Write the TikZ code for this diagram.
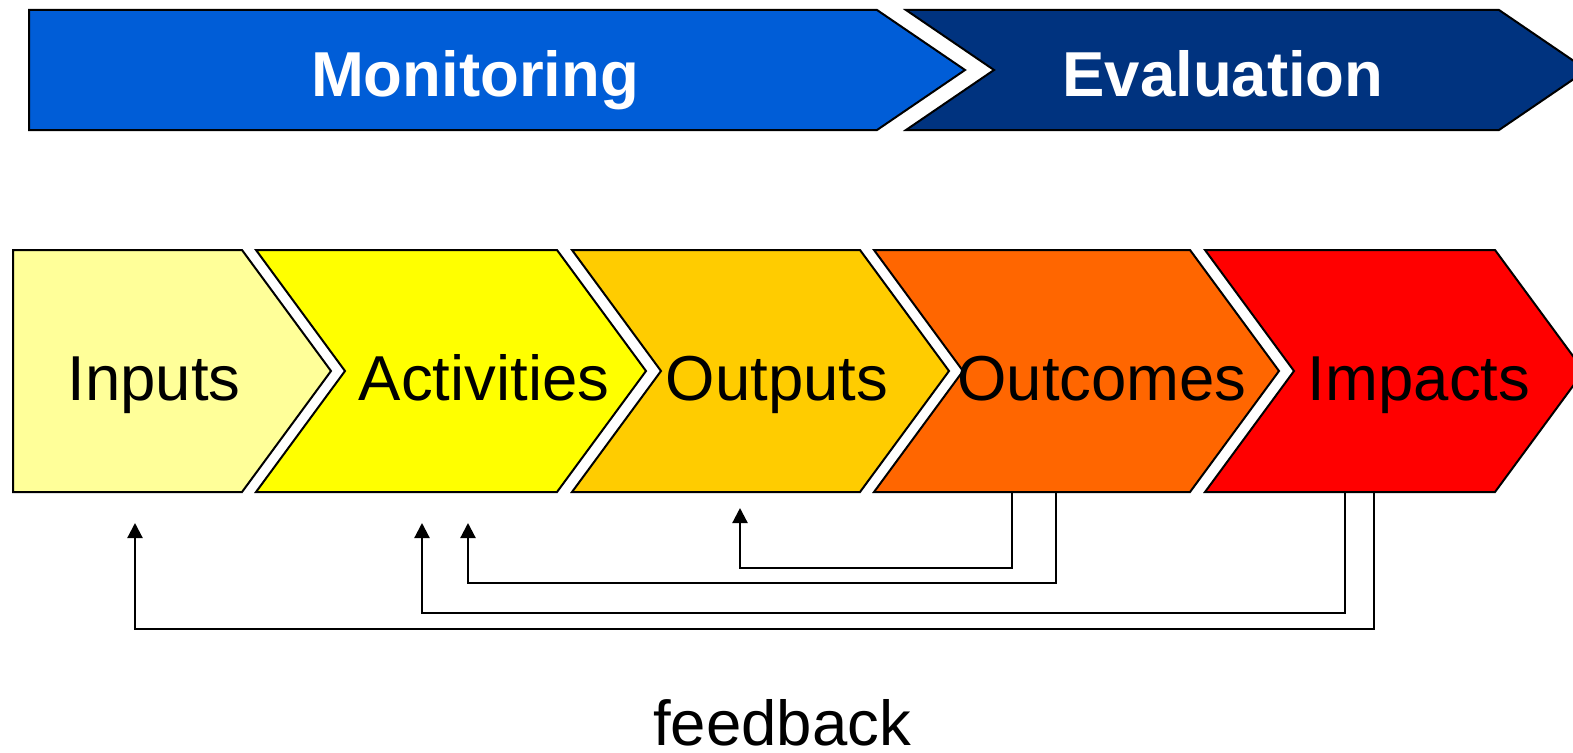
\documentclass[tikz,border=0pt]{standalone}
\usepackage{fontspec}
\setmainfont{Liberation Sans}
\usetikzlibrary{arrows.meta}
\definecolor{cmon}{HTML}{005DD7}
\definecolor{ceva}{HTML}{00337F}
\definecolor{cin}{HTML}{FFFF99}
\definecolor{cact}{HTML}{FFFF00}
\definecolor{cout}{HTML}{FFCC00}
\definecolor{cocm}{HTML}{FF6600}
\definecolor{cimp}{HTML}{FF0000}
\tikzset{
  shapebox/.style={draw=black,line width=2pt,line join=miter},
  bigtxt/.style={font=\fontsize{63.5}{74}\selectfont,anchor=base,inner sep=0pt},
  bandtxt/.style={font=\fontsize{63.5}{74}\selectfont\bfseries,text=white,anchor=base,inner sep=0pt},
  fb/.style={draw=black,line width=2.2pt,-{Triangle[length=15pt,width=15pt]}}
}
\begin{document}
\begin{tikzpicture}[x=1pt,y=-1pt]
\useasboundingbox (0,0) rectangle (1573,752);
\begin{scope}
\clip (0,0) rectangle (1573,752);
% top bands
\path[shapebox,fill=cmon] (29,10) -- (877,10) -- (965,70) -- (877,130) -- (29,130) -- cycle;
\path[shapebox,fill=ceva] (906,10) -- (1499,10) -- (1587,70) -- (1499,130) -- (906,130) -- (994,70) -- cycle;
% chevrons
\path[shapebox,fill=cin] (13,250) -- (242,250) -- (331,371) -- (242,492) -- (13,492) -- cycle;
\path[shapebox,fill=cact] (256,250) -- (557,250) -- (646,371) -- (557,492) -- (256,492) -- (345,371) -- cycle;
\path[shapebox,fill=cout] (572,250) -- (860,250) -- (949,371) -- (860,492) -- (572,492) -- (661,371) -- cycle;
\path[shapebox,fill=cocm] (874,250) -- (1190,250) -- (1279,371) -- (1190,492) -- (874,492) -- (963,371) -- cycle;
\path[shapebox,fill=cimp] (1205,250) -- (1495,250) -- (1584,371) -- (1495,492) -- (1205,492) -- (1294,371) -- cycle;
\end{scope}
% labels
\node[bandtxt] (mon) at (475,96) {Monitoring};
\node[bandtxt] (eva) at (1223,96) {Evaluation};
\node[bigtxt] (inp) at (154,400) {Inputs};
\node[bigtxt] (act) at (484,400) {Activities};
\node[bigtxt] (outp) at (777,400) {Outputs};
\node[bigtxt] (outc) at (1102,400) {Outcomes};
\node[bigtxt] (imp) at (1419,400) {Impacts};
\node[bigtxt] (feed) at (782,745) {feedback};
% feedback connectors
\coordinate (oc1) at (1012,492);
\coordinate (oc2) at (1056,492);
\coordinate (im1) at (1345,492);
\coordinate (im2) at (1374,492);
\coordinate (tout) at (740,508);
\coordinate (tact2) at (468,523);
\coordinate (tact1) at (422,523);
\coordinate (tin) at (135,523);
\draw[fb] (oc1) -- (1012,568) -| (tout);
\draw[fb] (oc2) -- (1056,583) -| (tact2);
\draw[fb] (im1) -- (1345,613) -| (tact1);
\draw[fb] (im2) -- (1374,629) -| (tin);
\end{tikzpicture}
\end{document}
